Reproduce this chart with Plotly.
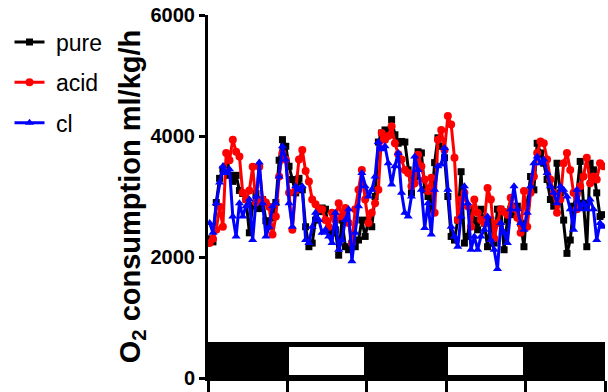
import plotly.graph_objects as go

pure = [2300, 2250, 2900, 3300, 3450, 3500, 3350, 3250, 3350, 3100,
        3050, 2950, 2400, 2850, 3050, 2800, 2950, 2600, 2500, 2650,
        2900, 3600, 3940, 3830, 3500, 3280, 3060, 3300, 3110, 2500,
        2170, 2230, 2610, 2750, 2810, 2790, 2450, 2400, 2450, 2030,
        2610, 2170, 2120, 2230, 2170, 2280, 2610, 2340, 2610, 2500,
        3000, 3900, 4050, 4100, 4050, 4270, 4020, 3880, 3910, 3900,
        3440, 3060, 3330, 3740, 3720, 3110, 3000, 2790, 3560, 3970,
        3830, 3640, 3000, 2340, 2280, 2610, 3410, 2230, 2340, 2790,
        2610, 2450, 2790, 2560, 2170, 2610, 2230, 2790, 2790, 2120,
        2610, 2790, 2700, 2840, 2560, 2170, 2890, 3330, 3110, 3880,
        3720, 3550, 3280, 2950, 2840, 3550, 3060, 2610, 2060, 2280,
        2840, 3060, 3580, 2890, 2170, 3550, 3440, 3060, 2670, 2700]

acid = [2230, 2300, 2450, 2830, 2500, 3720, 3600, 3940, 3740, 3660,
        3060, 2950, 3100, 3490, 2900, 3490, 2950, 2900, 2830, 2370,
        2670, 3330, 3720, 3610, 3060, 2450, 3100, 3610, 3770, 3420,
        3250, 2950, 2870, 2790, 2790, 2610, 2500, 2730, 2610, 2890,
        2670, 2810, 2560, 2230, 2790, 3110, 3440, 2950, 2560, 2730,
        2890, 3110, 4050, 3940, 4000, 4160, 3880, 3700, 3610, 3440,
        3390, 3170, 3220, 3690, 3500, 3280, 3090, 3310, 2730, 3940,
        4100, 3770, 4330, 4190, 3640, 2610, 2950, 3060, 2840, 2500,
        2950, 2730, 2610, 2560, 3140, 2950, 2310, 2560, 2790, 2750,
        2700, 2980, 2800, 2650, 2400, 3090, 2500, 3060, 3330, 3720,
        3910, 3880, 3610, 3280, 3060, 2730, 2950, 3550, 3720, 3440,
        3060, 2790, 3170, 3330, 3640, 3220, 3330, 3280, 3550, 3500]

cl = [2560, 2400, 2890, 3230, 3500, 3390, 3450, 2670, 2340, 2890,
      2670, 2840, 2950, 2280, 3000, 3560, 2890, 2340, 2500, 2840,
      2890, 3330, 3830, 3610, 2890, 2500, 3170, 3110, 3170, 2280,
      2230, 2500, 2730, 2610, 2400, 2450, 2340, 2230, 2730, 2120,
      2280, 2610, 2790, 1930, 2400, 2840, 3390, 3170, 3000, 3110,
      3330, 3900, 3780, 3830, 3550, 3200, 3500, 3720, 3060, 2730,
      2670, 3000, 3660, 3440, 3110, 2480, 2890, 2370, 3110, 3500,
      3530, 3800, 3110, 2500, 2340, 2170, 2670, 3170, 2890, 2120,
      2340, 2120, 2340, 2450, 2670, 2280, 2120, 1800, 2560, 2400,
      2230, 2790, 3170, 2790, 2560, 2450, 2730, 3170, 3550, 3660,
      3550, 3610, 3390, 3170, 3060, 2890, 3170, 3110, 3000, 2790,
      2450, 3110, 2790, 2890, 2790, 2950, 2790, 2280, 2560, 2500]

phases = ["dark", "light", "dark", "light", "dark"]
phase_height = 550
points_per_phase = 24
y_ticks = [0, 2000, 4000, 6000]

x = [i + 0.5 for i in range(len(pure))]

fig = go.Figure()

# light/dark phase bars
fig.add_trace(go.Bar(
    x=[points_per_phase * (k + 0.5) for k in range(len(phases))],
    y=[phase_height] * len(phases),
    width=[points_per_phase] * len(phases),
    marker=dict(color=["black" if p == "dark" else "white" for p in phases],
                line=dict(color="black", width=5)),
    showlegend=False, hoverinfo="skip"))

series = [("pure", pure, "#000000", "square", 7),
          ("acid", acid, "#ff0000", "circle", 8),
          ("cl", cl, "#0000ff", "triangle-up", 8)]
for name, vals, col, sym, sz in series:
    fig.add_trace(go.Scatter(
        x=x, y=vals, name="\u00a0" + name, mode="lines+markers",
        legendgroup=name,
        line=dict(color=col, width=3),
        marker=dict(color=col, symbol=sym, size=sz)))

fig.update_layout(
    width=608, height=392,
    margin=dict(l=208, r=3, t=15, b=14, autoexpand=False),
    plot_bgcolor="white", paper_bgcolor="white",
    bargap=0,
    font=dict(family="Arial", color="black"),
    legend=dict(x=-0.5, y=0.985, xanchor="left", yanchor="top",
                font=dict(size=23, family="Arial"),
                tracegroupgap=7.5, bgcolor="rgba(0,0,0,0)"),
    xaxis=dict(range=[0, points_per_phase * len(phases)],
               automargin=False,
               showgrid=False, zeroline=False,
               showline=True, linecolor="black", linewidth=3,
               tickvals=[points_per_phase * k for k in range(len(phases) + 1)],
               ticks="outside", ticklen=14, tickwidth=2.5, tickcolor="black",
               showticklabels=False),
    yaxis=dict(range=[0, 6000], automargin=False,
               showgrid=False, zeroline=False,
               showline=True, linecolor="black", linewidth=3,
               tickvals=y_ticks, ticks="outside", ticklen=6, tickwidth=3,
               tickcolor="black",
               tickfont=dict(size=20, family="Arial", weight="bold",
                             color="black"),
               title=dict(text="<b>O<sub>2</sub> consumption ml/kg/h</b>",
                          font=dict(size=29, family="Arial", color="black"),
                          standoff=1)),
)

fig.write_html("out.html")
